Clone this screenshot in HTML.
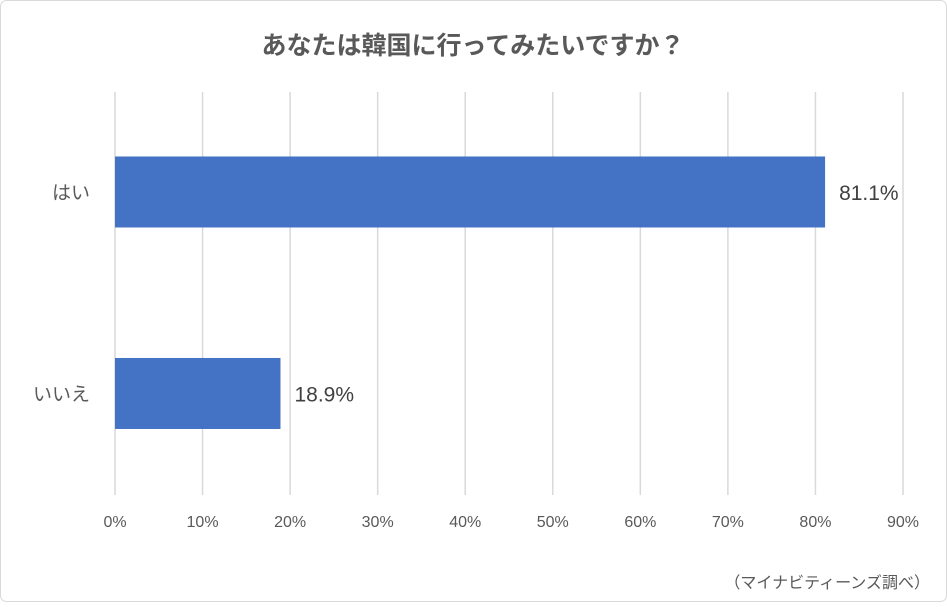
<!DOCTYPE html>
<html><head><meta charset="utf-8"><style>
html,body{margin:0;padding:0;background:#fff;}
body{width:947px;height:602px;overflow:hidden;font-family:"Liberation Sans","Noto Sans CJK JP",sans-serif;}
</style></head><body>
<svg id="chart" width="947" height="602" xmlns="http://www.w3.org/2000/svg" font-family="Liberation Sans, Noto Sans CJK JP, sans-serif">
<rect x="0.5" y="0.5" width="946" height="601" rx="6" fill="#fff" stroke="#d9d9d9"/>
<text x="473" y="54" text-anchor="middle" font-size="25" font-weight="bold" fill="#595959">あなたは韓国に行ってみたいですか？</text>
<g id="grid"></g><g id="bars"></g><g id="labels"></g>
<text x="930" y="588" text-anchor="end" font-size="16" fill="#595959">（マイナビティーンズ調べ）</text>
</svg>
<script>
const categories = ["はい","いいえ"];
const values = [81.1, 18.9];
const valueLabels = ["81.1%","18.9%"];
const ticks = [0,10,20,30,40,50,60,70,80,90];
const tickLabels = ["0%","10%","20%","30%","40%","50%","60%","70%","80%","90%"];
const NS="http://www.w3.org/2000/svg";
const x0=115,x1=903,xmax=90;
const xs=v=>x0+(v/xmax)*(x1-x0);
const rowTop=92,rowH=(495-92)/categories.length;
const ys=i=>rowTop+rowH*i+rowH*0.32;
const barH=71;
function mk(t,a,p){const e=document.createElementNS(NS,t);for(const k in a)e.setAttribute(k,a[k]);p.appendChild(e);return e;}
const g=document.getElementById('grid'),b=document.getElementById('bars'),l=document.getElementById('labels');
ticks.forEach((t,i)=>{
 const ln=mk('line',{x1:xs(t),x2:xs(t),y1:92,y2:495,stroke:'#d9d9d9','stroke-width':1.5},g);
 
 
 const tx=mk('text',{x:xs(t),y:527,'text-anchor':'middle','font-size':16,fill:'#595959'},g);
 tx.textContent=tickLabels[i];
 
 
});
categories.forEach((c,i)=>{
 const y=ys(i);
 const r=mk('rect',{x:x0,y:y,width:xs(values[i])-x0,height:barH,fill:'#4472c4'},b);
 
 
 const ct=mk('text',{x:90,y:y+barH/2+7,'text-anchor':'end','font-size':19,fill:'#595959'},l);
 ct.textContent=c;
 
 
 const vt=mk('text',{x:xs(values[i])+14,y:y+barH/2+8,'font-size':21,fill:'#404040'},l);
 vt.textContent=valueLabels[i];
 
 
});
</script>
</body></html>
